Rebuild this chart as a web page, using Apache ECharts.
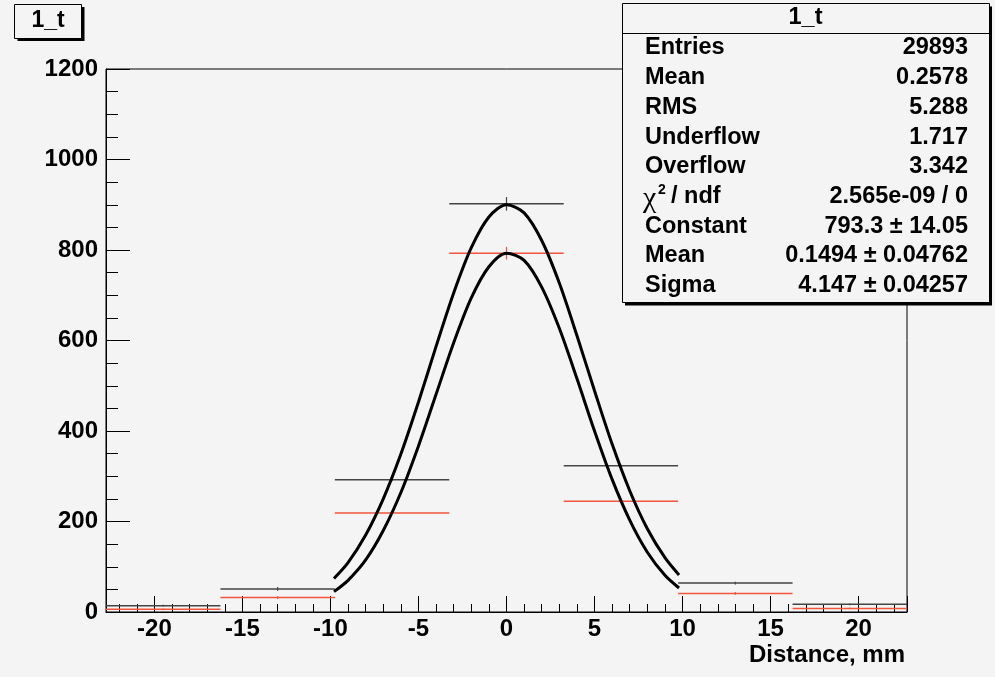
<!DOCTYPE html>
<html>
<head>
<meta charset="utf-8">
<script src="https://cdn.jsdelivr.net/npm/echarts@6/dist/echarts.min.js"></script>
<style>
html,body{margin:0;padding:0;background:#f4f4f4;}
#chart{width:995px;height:677px;}
</style>
</head>
<body>
<div id="chart"></div>
<script>
// ---- data ----
const binLow  = [-22.75, -16.25, -9.75, -3.25, 3.25, 9.75, 16.25];
const binHigh = [-16.25, -9.75, -3.25, 3.25, 9.75, 16.25, 22.75];
const blackCounts = [14, 51, 292, 902, 323, 64, 17];
const blackErrors = [2, 4, 3, 15, 3, 3, 2];
const redCounts   = [6, 32, 219, 793, 245, 41, 8];
const redErrors   = [2, 3, 3, 14, 3, 3, 2];

const curveX     = [-9.8, -9, -8, -7, -6, -5, -4, -3, -2, -1, 0, 1, 2, 3, 4, 5, 6, 7, 8, 9, 9.8];
const upperCurve = [74, 109, 170, 250, 349, 464, 587, 705, 805, 873, 900, 882, 821, 727, 611, 489, 371, 268, 184, 120, 82];
const lowerCurve = [45, 70, 115, 180, 264, 367, 481, 595, 694, 763, 793, 777, 718, 627, 516, 400, 293, 203, 132, 81, 53];

const yTicks = [0, 200, 400, 600, 800, 1000, 1200];
const xTicks = [-20, -15, -10, -5, 0, 5, 10, 15, 20];

const histTitle = '1_t';
const xAxisTitle = 'Distance, mm';
const statLabels = ['Entries', 'Mean', 'RMS', 'Underflow', 'Overflow', '', 'Constant', 'Mean', 'Sigma'];
const statValues = ['29893', '0.2578', '5.288', '1.717', '3.342', '2.565e-09 / 0', '793.3 \u00b1 14.05', '0.1494 \u00b1 0.04762', '4.147 \u00b1 0.04257'];

// ---- build ----
const FONT = '"Liberation Sans", Arial, Helvetica, sans-serif';
const BG = '#f4f4f4';
const STAT_FONT = 'bold 23.5px ' + FONT;

function histData(counts, errs) {
  return counts.map((c, i) => [binLow[i], binHigh[i], c, errs[i]]);
}
function histRender(color) {
  return function (params, api) {
    const lo = api.value(0), hi = api.value(1), v = api.value(2), e = api.value(3);
    const a = api.coord([lo, v]), b = api.coord([hi, v]);
    const mid = (lo + hi) / 2;
    const t = api.coord([mid, v + e]), d = api.coord([mid, Math.max(0, v - e)]);
    return {
      type: 'group',
      children: [
        {type: 'line', shape: {x1: a[0], y1: a[1], x2: b[0], y2: b[1]}, style: {stroke: color, lineWidth: 1.5}},
        {type: 'line', shape: {x1: t[0], y1: t[1], x2: d[0], y2: d[1]}, style: {stroke: color, lineWidth: 1.2}}
      ]
    };
  };
}
function curveData(ys) { return curveX.map((x, i) => [x, ys[i]]); }

const graphics = [];
// title box top-left
graphics.push({type: 'rect', z: 100, shape: {x: 17.5, y: 7, width: 67, height: 34}, style: {fill: '#000'}});
graphics.push({type: 'rect', z: 101, shape: {x: 14.5, y: 4.5, width: 67, height: 34}, style: {fill: BG, stroke: '#000', lineWidth: 1}});
graphics.push({type: 'text', z: 102, x: 48, y: 21, style: {text: histTitle, font: 'bold 23px ' + FONT, fill: '#000', align: 'center', verticalAlign: 'middle'}});

// stats box
const SX = 622, SY = 3.5, SW = 367, SH = 299;
graphics.push({type: 'rect', z: 100, shape: {x: SX + 3, y: SY + 3, width: SW, height: SH}, style: {fill: '#000'}});
graphics.push({type: 'rect', z: 101, shape: {x: SX + 0.5, y: SY, width: SW, height: SH}, style: {fill: BG, stroke: '#000', lineWidth: 1}});
graphics.push({type: 'line', z: 102, shape: {x1: SX, y1: 33.5, x2: SX + SW, y2: 33.5}, style: {stroke: '#000', lineWidth: 1}});
graphics.push({type: 'text', z: 102, x: SX + SW / 2, y: 18, style: {text: histTitle, font: STAT_FONT, fill: '#000', align: 'center', verticalAlign: 'middle'}});
statLabels.forEach((lab, i) => {
  const y = 48 + i * 29.7;
  if (lab) {
    graphics.push({type: 'text', z: 102, x: 645, y: y, style: {text: lab, font: STAT_FONT, fill: '#000', align: 'left', verticalAlign: 'middle'}});
  }
  graphics.push({type: 'text', z: 102, x: 968, y: y, style: {text: statValues[i], font: STAT_FONT, fill: '#000', align: 'right', verticalAlign: 'middle'}});
});
// chi2 / ndf label
(function () {
  const y = 48 + 5 * 29.7;
  graphics.push({type: 'text', z: 102, x: 643, y: y + 3, style: {text: '\u03c7', font: '30px "Liberation Serif", serif', fill: '#000', align: 'left', verticalAlign: 'middle'}});
  graphics.push({type: 'text', z: 102, x: 658, y: y - 6, style: {text: '2', font: 'bold 14px ' + FONT, fill: '#000', align: 'left', verticalAlign: 'middle'}});
  graphics.push({type: 'text', z: 102, x: 671, y: y, style: {text: '/ ndf', font: STAT_FONT, fill: '#000', align: 'left', verticalAlign: 'middle'}});
})();
// x axis title
graphics.push({type: 'text', z: 102, x: 905, y: 655, style: {text: xAxisTitle, font: 'bold 24px ' + FONT, fill: '#000', align: 'right', verticalAlign: 'middle'}});

const chart = echarts.init(document.getElementById('chart'), null, {renderer: 'canvas'});
chart.setOption({
  backgroundColor: BG,
  animation: false,
  grid: {left: 106, right: 88, top: 69, bottom: 65, show: true, borderColor: '#000', borderWidth: 1, backgroundColor: 'transparent'},
  xAxis: {
    type: 'value', min: binLow[0], max: binHigh[binHigh.length - 1],
    minInterval: xTicks[1] - xTicks[0], maxInterval: xTicks[1] - xTicks[0],
    axisLine: {show: true, onZero: false, lineStyle: {color: '#000', width: 1}},
    axisTick: {show: true, inside: true, length: 16, lineStyle: {color: '#000', width: 1}},
    minorTick: {show: true, splitNumber: 5, length: 8, lineStyle: {color: '#000', width: 1}},
    splitLine: {show: false},
    axisLabel: {
      show: true, margin: 5, color: '#000', fontSize: 24, fontWeight: 'bold', fontFamily: FONT,
      showMinLabel: false, showMaxLabel: false,
      formatter: v => (xTicks.indexOf(Math.round(v * 1000) / 1000) >= 0 ? String(v) : '')
    }
  },
  yAxis: {
    type: 'value', min: yTicks[0], max: yTicks[yTicks.length - 1], interval: yTicks[1] - yTicks[0],
    axisLine: {show: true, onZero: false, lineStyle: {color: '#000', width: 1}},
    axisTick: {show: true, inside: true, length: 24, lineStyle: {color: '#000', width: 1}},
    minorTick: {show: true, splitNumber: 4, length: 12, lineStyle: {color: '#000', width: 1}},
    splitLine: {show: false},
    axisLabel: {margin: 8, color: '#000', fontSize: 24, fontWeight: 'bold', fontFamily: FONT, formatter: v => String(v)}
  },
  series: [
    {type: 'custom', name: 'black', renderItem: histRender('#444'), data: histData(blackCounts, blackErrors), encode: {x: [0, 1], y: 2}, z: 2},
    {type: 'custom', name: 'red', renderItem: histRender('#f2553c'), data: histData(redCounts, redErrors), encode: {x: [0, 1], y: 2}, z: 2},
    {type: 'line', name: 'fitUpper', data: curveData(upperCurve), smooth: 0.3, showSymbol: false, symbol: 'none', lineStyle: {color: '#000', width: 3}, z: 3},
    {type: 'line', name: 'fitLower', data: curveData(lowerCurve), smooth: 0.3, showSymbol: false, symbol: 'none', lineStyle: {color: '#000', width: 3}, z: 3}
  ],
  graphic: graphics
});
</script>
</body>
</html>
